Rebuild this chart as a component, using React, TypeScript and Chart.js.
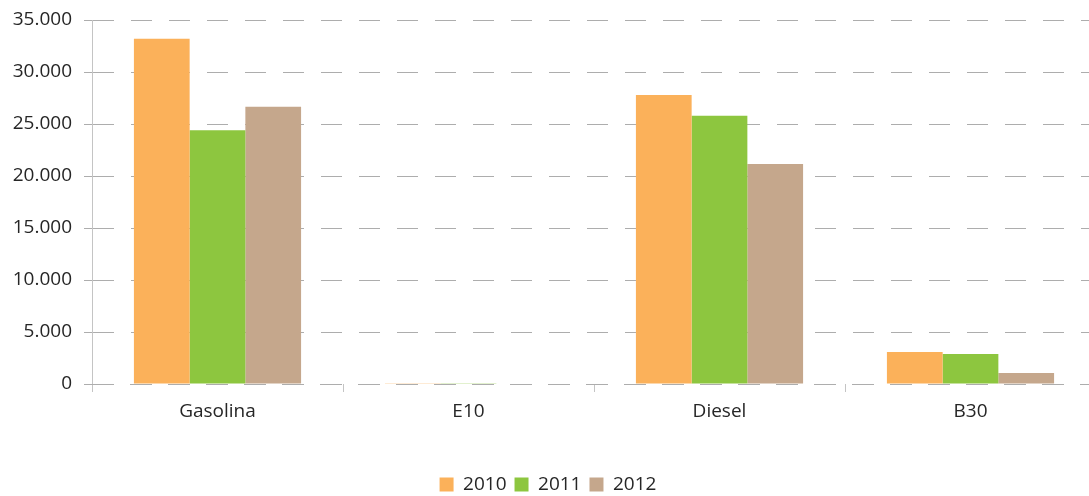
import React, { useEffect, useRef } from "react";
import { Chart, registerables } from "chart.js";

Chart.register(...registerables);

const categories = ["Gasolina", "E10", "Diesel", "B30"];
const seriesNames = ["2010", "2011", "2012"];
const values2010 = [33200, 80, 27800, 3080];
const values2011 = [24400, 70, 25800, 2880];
const values2012 = [26650, 60, 21150, 1060];
const colors = ["#FBB15A", "#8DC63F", "#C5A78C"];

const fmt = (v: number) => {
  const s = Math.round(v).toString();
  return s.replace(/\B(?=(\d{3})+(?!\d))/g, ".");
};

const FONT = "'Open Sans', 'DejaVu Sans', sans-serif";

export default function App() {
  const ref = useRef<HTMLCanvasElement>(null);
  useEffect(() => {
    if (!ref.current) return;
    const zeroLine = {
      id: "zeroLine",
      afterDatasetsDraw(chart: any) {
        const { ctx, chartArea } = chart;
        const y = Math.round(chart.scales.y.getPixelForValue(0)) + 0.5;
        ctx.save();
        ctx.strokeStyle = "#ADADAD";
        ctx.lineWidth = 1;
        ctx.setLineDash([21, 17]);
        ctx.beginPath();
        ctx.moveTo(chartArea.left, y);
        ctx.lineTo(chartArea.right, y);
        ctx.stroke();
        ctx.restore();
      },
    };
    const legendFit = {
      id: "legendFit",
      beforeInit(chart: any) {
        const orig = chart.legend.fit;
        chart.legend.fit = function () {
          orig.call(this);
          this.height = 29;
        };
      },
    };
    const chart = new Chart(ref.current, {
      type: "bar",
      data: {
        labels: categories,
        datasets: [values2010, values2011, values2012].map((d, i) => ({
          label: seriesNames[i],
          data: d,
          backgroundColor: colors[i],
          borderWidth: 0,
          categoryPercentage: 0.666,
          barPercentage: 1.0,
        })),
      },
      options: {
        animation: false,
        responsive: false,
        maintainAspectRatio: false,
        layout: { padding: { top: 20, right: 4, bottom: 0, left: 0 } },
        plugins: {
          tooltip: { enabled: false },
          legend: {
            position: "bottom",
            labels: {
              boxWidth: 14,
              boxHeight: 14,
              padding: 8,
              color: "#262626",
              font: { family: FONT, size: 19 },
            },
          },
        },
        scales: {
          x: {
            grid: {
              drawOnChartArea: false,
              drawTicks: true,
              tickLength: 8,
              color: "#C4C4C4",
              offset: true,
            },
            border: { display: false },
            ticks: {
              padding: 8,
              color: "#262626",
              font: { family: FONT, size: 19 },
            },
            afterFit: (s: any) => {
              s.height = 83;
            },
          },
          y: {
            min: 0,
            max: 35000,
            ticks: {
              stepSize: 5000,
              padding: 12,
              color: "#262626",
              font: { family: FONT, size: 19 },
              callback: (v: any) => fmt(Number(v)),
            },
            grid: {
              color: "#ADADAD",
              tickColor: "#ADADAD",
              tickLength: 8,
              tickBorderDash: [],
            },
            border: { display: true, color: "#C4C4C4" },
            afterFit: (s: any) => {
              s.width = 92;
              s.paddingTop = 0;
              s.paddingBottom = 0;
            },
          },
        },
      },
      plugins: [zeroLine, legendFit],
    } as any);
    (chart.options.scales as any).y.grid.borderDash = [21, 17];
    (chart.options.scales as any).y.border.dash = [21, 17];
    chart.update();
    return () => chart.destroy();
  }, []);
  return (
    <div style={{ position: "fixed", left: 0, top: 0, width: 1089, height: 496, overflow: "hidden", background: "#fff" }}>
      <canvas ref={ref} width={1100} height={496} style={{ width: 1100, height: 496, display: "block" }} />
    </div>
  );
}
